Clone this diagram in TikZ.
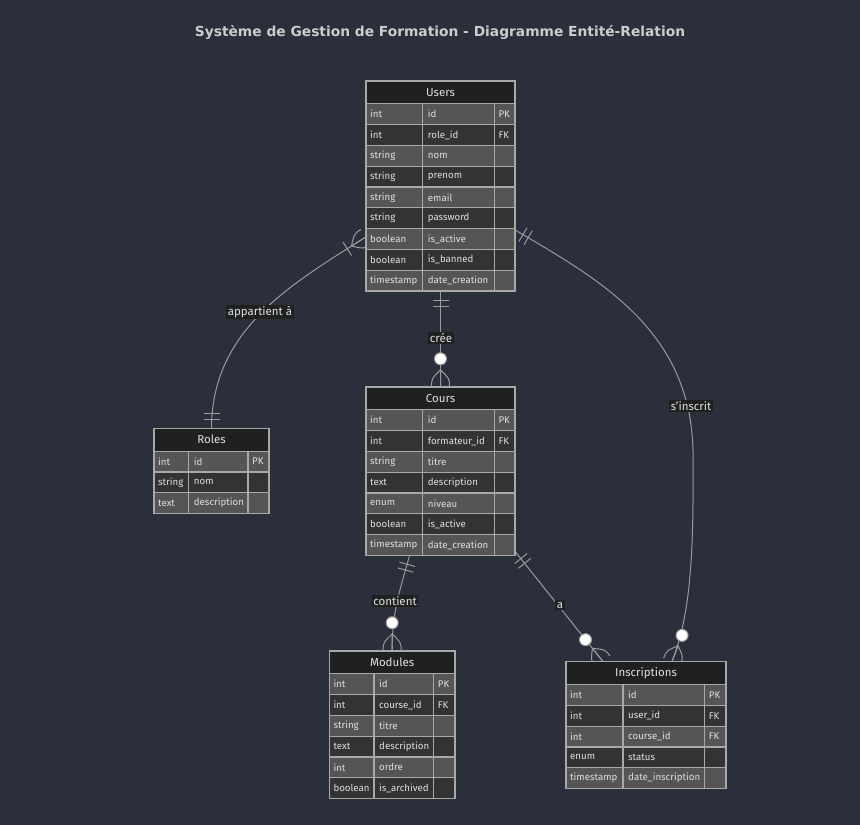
\documentclass[tikz,border=0pt]{standalone}
\usepackage{fontspec}
\setmainfont{Fira Sans}
\newfontfamily\titlefont{DejaVu Sans}
\usetikzlibrary{calc}
\usetikzlibrary{fit}
\definecolor{bgcol}{HTML}{2A2F3B}
\definecolor{headfill}{HTML}{1F2020}
\definecolor{rowodd}{HTML}{555555}
\definecolor{roweven}{HTML}{333333}
\definecolor{cellline}{HTML}{A8A8A8}
\definecolor{txtcol}{HTML}{E0E0E0}
\definecolor{titlecol}{HTML}{CCCCCC}
\definecolor{relcol}{HTML}{9A9A9A}
\pgfdeclarelayer{canvas}
\pgfdeclarelayer{lines}
\pgfsetlayers{canvas,lines,main}

\newcommand{\crowpath}{\draw[relline] (0,-9) .. controls (8,-9) .. (17,0)
  .. controls (8,9) .. (0,9) (0,0) -- (17,0);}
\tikzset{
  relline/.style={draw=relcol, line width=1pt},
  cell/.style={draw=cellline, line width=1.2pt},
  celltext/.style={anchor=west, inner sep=0pt, text=txtcol, font=\fontsize{9.7}{11}\selectfont},
  headtext/.style={text=txtcol, font=\fontsize{11.5}{13}\selectfont},
  rellabel/.style={fill=headfill, text=txtcol, inner sep=1.5pt, font=\fontsize{11.5}{13}\selectfont},
  onlyone/.pic={\draw[relline] (9,-8) -- (9,8) (15,-8) -- (15,8);},
  onemany/.pic={\crowpath \draw[relline] (22,-8) -- (22,8);},
  zeromany/.pic={\crowpath \filldraw[relline, fill=white] (28,0) circle (6);}
}

% table: name, title, x, y, column widths, rows
\newcommand{\ertable}[8]{%
  \begin{scope}[shift={(#3,#4)}]
    \pgfmathsetmacro\colb{#5}
    \pgfmathsetmacro\colc{#5+#6}
    \pgfmathsetmacro\tabw{#5+#6+#7}
    \filldraw[cell, fill=headfill] (0,0) rectangle (\tabw,22.8);
    \node[headtext] at (\tabw/2,11.4) {#2};
    \coordinate (#1-top) at (\tabw,0);
    \foreach \typ/\nam/\key [count=\i] in {#8}{
      \ifodd\i\def\rowfill{rowodd}\else\def\rowfill{roweven}\fi
      \pgfmathsetmacro\rtop{22.8+(\i-1)*20.8}
      \pgfmathsetmacro\rbot{22.8+\i*20.8}
      \filldraw[cell, fill=\rowfill] (0,\rtop) rectangle (\colb,\rbot)
        (\colb,\rtop) rectangle (\colc,\rbot) (\colc,\rtop) rectangle (\tabw,\rbot);
      \node[celltext] at (4,\rtop+10.4) {\typ};
      \node[celltext] at (\colb+5,\rtop+10.4) {\nam};
      \node[celltext] at (\colc+4,\rtop+10.4) {\key};
      \coordinate (#1-bot) at (0,\rbot);
    }
    \node[inner sep=0pt, fit=(#1-top)(#1-bot)] (#1) {};
  \end{scope}}

\begin{document}
\begin{tikzpicture}[x=1pt, y=-1pt]
  \begin{pgfonlayer}{canvas}
    \fill[bgcol] (0,0) rectangle (860,825);
  \end{pgfonlayer}
  \useasboundingbox (0,0) rectangle (860,825);
  \node[text=titlecol, font=\titlefont\bfseries\fontsize{13.8}{16}\selectfont] (title) at (440,32.5)
    {Système de Gestion de Formation - Diagramme Entité-Relation};

  \ertable{users}{Users}{366}{81}{56.7}{71.6}{20.7}{int/id/PK, int/role\_id/FK, string/nom/{},
    string/prenom/{}, string/email/{}, string/password/{}, boolean/is\_active/{},
    boolean/is\_banned/{}, timestamp/date\_creation/{}}
  \ertable{roles}{Roles}{154}{428.3}{34.7}{59.3}{21}{int/id/PK, string/nom/{}, text/description/{}}
  \ertable{cours}{Cours}{366}{387}{56.7}{71.6}{20.7}{int/id/PK, int/formateur\_id/FK, string/titre/{},
    text/description/{}, enum/niveau/{}, boolean/is\_active/{}, timestamp/date\_creation/{}}
  \ertable{modules}{Modules}{329.3}{651}{44.7}{59.7}{21.3}{int/id/PK, int/course\_id/FK, string/titre/{},
    text/description/{}, int/ordre/{}, boolean/is\_archived/{}}
  \ertable{inscriptions}{Inscriptions}{566}{661.7}{57}{81.7}{21.3}{int/id/PK, int/user\_id/FK,
    int/course\_id/FK, enum/status/{}, timestamp/date\_inscription/{}}

  \coordinate (uw) at ([yshift=-51pt]users.west);
  \coordinate (ue) at ([yshift=-44pt]users.east);
  \coordinate (cm) at ([xshift=-31pt]cours.south);
  \coordinate (ci) at ([yshift=4pt]cours.south east);
  \coordinate (iu) at ([xshift=26pt]inscriptions.north);
  \coordinate (ic) at ([xshift=-43pt]inscriptions.north);

  % relations, under the tables
  \begin{pgfonlayer}{lines}
    \draw[relline] (uw) .. controls (290,285) and (212,330) .. (roles.north);
    \pic[rotate=-147.7] at (uw) {onemany};
    \pic[rotate=90] at (roles.north) {onlyone};

    \draw[relline] (users.south) -- (cours.north);
    \pic[rotate=-90] at (users.south) {onlyone};
    \pic[rotate=90] at (cours.north) {zeromany};

    \draw[relline] (ue) .. controls (600,280) and (690,330) .. (693,450)
      .. controls (694,560) and (690,615) .. (iu);
    \pic[rotate=-30.5] at (ue) {onlyone};
    \pic[rotate=68.9] at (iu) {zeromany};

    \draw[relline] (cm) .. controls (400,590) and (392,612) .. (modules.north);
    \pic[rotate=-105.4] at (cm) {onlyone};
    \pic[rotate=90] at (modules.north) {zeromany};

    \draw[relline] (ci) -- (ic);
    \pic[rotate=-51.3] at (ci) {onlyone};
    \pic[rotate=128.7] at (ic) {zeromany};
  \end{pgfonlayer}

  \node[rellabel] at (260,312) {appartient à};
  \node[rellabel] at (441,338) {crée};
  \node[rellabel] at (691,406) {s'inscrit};
  \node[rellabel] at (395,601) {contient};
  \node[rellabel] at (560,605) {a};
\end{tikzpicture}
\end{document}
